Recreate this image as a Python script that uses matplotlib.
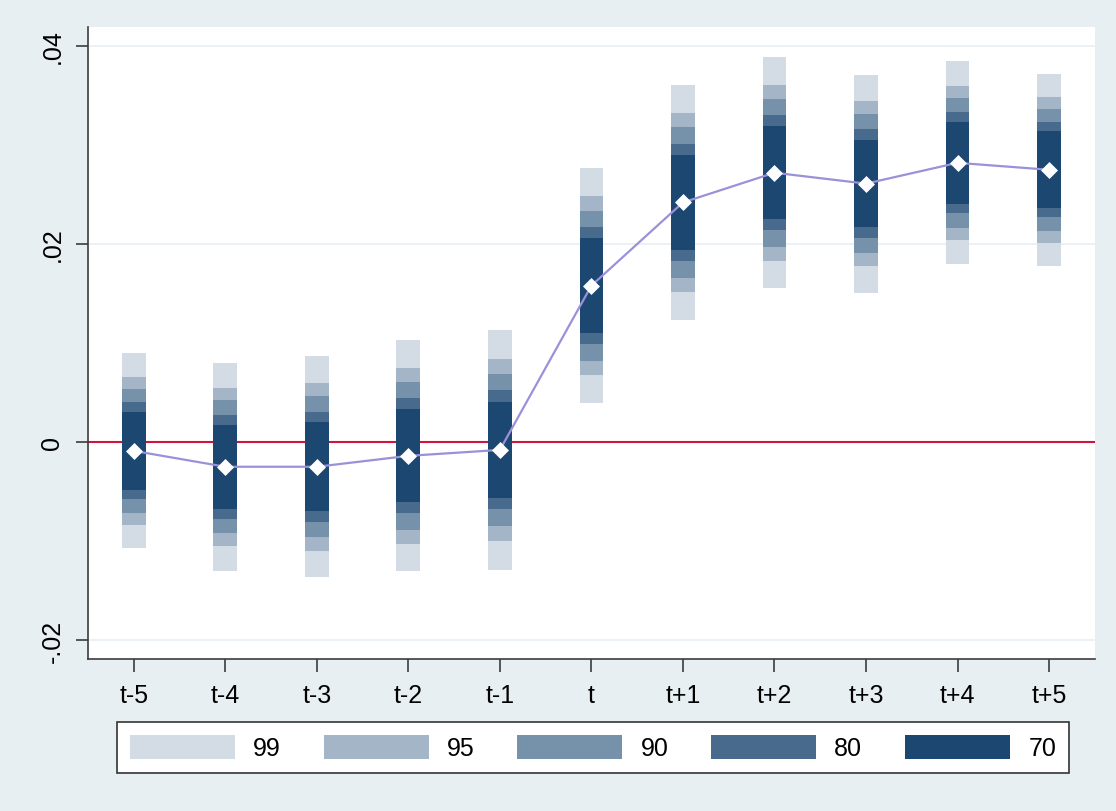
import numpy as np
import matplotlib
matplotlib.use("Agg")
import matplotlib.pyplot as plt
from matplotlib.patches import Patch

plt.rcParams['font.family'] = ['Liberation Sans', 'DejaVu Sans']

periods = ["t-5", "t-4", "t-3", "t-2", "t-1", "t", "t+1", "t+2", "t+3", "t+4", "t+5"]
coef = [-0.0009, -0.0025, -0.0025, -0.0014, -0.0008, 0.0158, 0.0242, 0.0272, 0.0261, 0.0282, 0.0275]
se = [0.00382, 0.00408, 0.00433, 0.00453, 0.00469, 0.00461, 0.00461, 0.00453, 0.00427, 0.00398, 0.00376]
levels = [99, 95, 90, 80, 70]
zvals = [2.576, 1.960, 1.645, 1.282, 1.036]
colors = ["#d3dce5", "#a3b5c6", "#7691aa", "#486b8d", "#1b4770"]

bg = "#e8eff2"
fig = plt.figure(figsize=(11.16, 8.12), dpi=100, facecolor=bg)
ax = fig.add_axes([0.0789, 0.1872, 0.9021, 0.7783])

x = np.arange(len(periods))
coef = np.array(coef)
se = np.array(se)

for g in [0.04, 0.02, -0.02]:
    ax.axhline(g, color=bg, lw=1.2, zorder=0)
ax.axhline(0, color="#d2143c", lw=1.5, zorder=1)

for z, c in zip(zvals, colors):
    ax.bar(x, 2 * z * se, bottom=coef - z * se, width=0.26, color=c, zorder=2)

ax.plot(x, coef, color="#9b91d8", lw=1.6, zorder=3)
ax.scatter(x, coef, marker="D", s=75, color="white", zorder=4, linewidths=0)

ax.set_xlim(-0.5, 10.5)
ax.set_ylim(-0.02192, 0.04192)
ax.set_xticks(x)
ax.set_xticklabels(periods, fontsize=18)
ax.set_yticks([-0.02, 0, 0.02, 0.04])
ax.set_yticklabels(["-.02", "0", ".02", ".04"], fontsize=18, rotation=90, va="center")
for s in ["top", "right"]:
    ax.spines[s].set_visible(False)
for s in ["left", "bottom"]:
    ax.spines[s].set_color("#3c3c3c")
    ax.spines[s].set_linewidth(1.2)
ax.tick_params(direction="out", length=9, width=1.2, color="#3c3c3c", pad=8)

handles = [Patch(facecolor=c, edgecolor="none") for c in colors]
leg = fig.legend(handles, [str(l) for l in levels], ncol=5, loc="center",
                 bbox_to_anchor=(593 / 1116, 1 - 748.5 / 812), fontsize=18,
                 handlelength=4.2, handleheight=1.1, handletextpad=0.72,
                 columnspacing=1.72, fancybox=False, borderpad=0.5,
                 framealpha=1, facecolor="white")
leg.get_frame().set_edgecolor("#333333")
leg.get_frame().set_linewidth(1.2)

fig.savefig("out.png", dpi=100, facecolor=bg)
